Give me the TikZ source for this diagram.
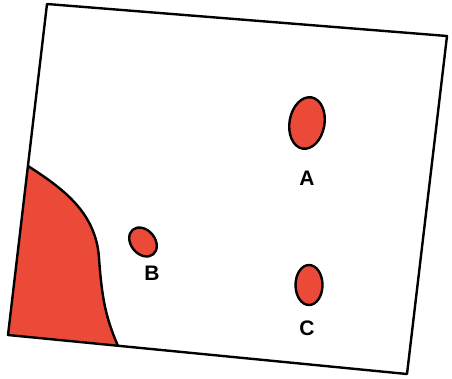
\documentclass[tikz,border=0pt]{standalone}
\usepackage{fontspec}
\setmainfont{Liberation Sans}
\definecolor{spot}{RGB}{236,74,56}
\begin{document}
\begin{tikzpicture}[x=1pt,y=-1pt,
  outl/.style={line width=2.4pt,line join=round},
  blob/.style={outl,fill=spot},
  lab/.style={font=\fontsize{21}{21}\selectfont\bfseries,inner sep=0pt}]
\useasboundingbox (0,0) rectangle (452,378);
\coordinate (tl) at (47,4);
\coordinate (tr) at (447,36);
\coordinate (br) at (407,374);
\coordinate (bl) at (8,335);
\coordinate (rs) at (28,166);
\coordinate (re) at (118,346);
% red region
\fill[spot] (rs) .. controls (62,188) and (96,212) .. (99,258)
  .. controls (102,300) and (106,318) .. (re) -- (bl) -- cycle;
\draw[outl] (rs) .. controls (62,188) and (96,212) .. (99,258)
  .. controls (102,300) and (106,318) .. (re);
% frame
\draw[outl] (tl) -- (tr) -- (br) -- (bl) -- cycle;
% blobs
\draw[blob,rotate around={-10:(307,123)}] (307,123) ellipse [x radius=17.5, y radius=26];
\draw[blob,rotate around={-50:(143,242)}] (143,242) ellipse [x radius=16, y radius=12];
\draw[blob] (309,285) ellipse [x radius=13.5, y radius=20];
\node[lab] (A) at (307,178) {A};
\node[lab] (B) at (152,273) {B};
\node[lab] (C) at (307,328) {C};
\end{tikzpicture}
\end{document}
